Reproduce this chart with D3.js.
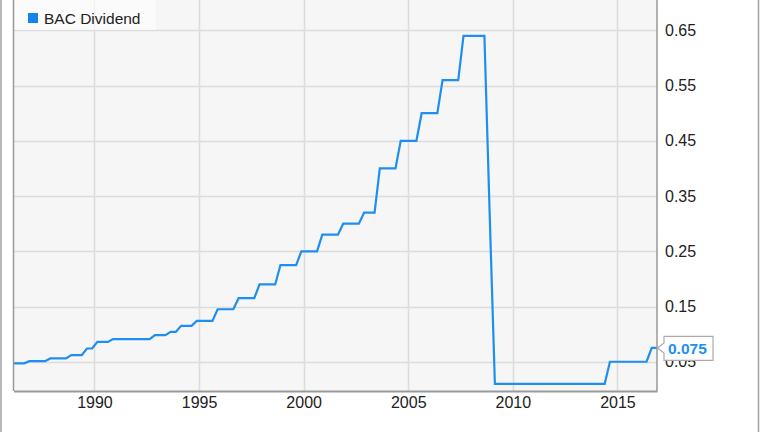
<!DOCTYPE html>
<html>
<head>
<meta charset="utf-8">
<script src="https://cdn.jsdelivr.net/npm/d3@7"></script>
<style>
  html, body { margin: 0; padding: 0; background: #fff; }
  svg { display: block; font-family: "Liberation Sans", Arial, sans-serif; }
</style>
</head>
<body>
<svg id="chart" width="764" height="432"></svg>
<script>
// ---- Data (quarterly, decimal-year dates) ----
const seriesName = "BAC Dividend";
const quarterDates = [
  1986.14, 1986.39, 1986.64, 1986.89,
  1987.14, 1987.39, 1987.64, 1987.89,
  1988.14, 1988.39, 1988.64, 1988.89,
  1989.14, 1989.39, 1989.64, 1989.89,
  1990.14, 1990.39, 1990.64, 1990.89,
  1991.14, 1991.39, 1991.64, 1991.89,
  1992.14, 1992.39, 1992.64, 1992.89,
  1993.14, 1993.39, 1993.64, 1993.89,
  1994.14, 1994.39, 1994.64, 1994.89,
  1995.14, 1995.39, 1995.64, 1995.89,
  1996.14, 1996.39, 1996.64, 1996.89,
  1997.14, 1997.39, 1997.64, 1997.89,
  1998.14, 1998.39, 1998.64, 1998.89,
  1999.14, 1999.39, 1999.64, 1999.89,
  2000.14, 2000.39, 2000.64, 2000.89,
  2001.14, 2001.39, 2001.64, 2001.89,
  2002.14, 2002.39, 2002.64, 2002.89,
  2003.14, 2003.39, 2003.64, 2003.89,
  2004.14, 2004.39, 2004.64, 2004.89,
  2005.14, 2005.39, 2005.64, 2005.89,
  2006.14, 2006.39, 2006.64, 2006.89,
  2007.14, 2007.39, 2007.64, 2007.89,
  2008.14, 2008.39, 2008.64, 2008.89,
  2009.14, 2009.39, 2009.64, 2009.89,
  2010.14, 2010.39, 2010.64, 2010.89,
  2011.14, 2011.39, 2011.64, 2011.89,
  2012.14, 2012.39, 2012.64, 2012.89,
  2013.14, 2013.39, 2013.64, 2013.89,
  2014.14, 2014.39, 2014.64, 2014.89,
  2015.14, 2015.39, 2015.64, 2015.89,
  2016.14, 2016.39, 2016.64, 2016.89
];
const dividendValues = [
  0.047, 0.047, 0.047, 0.051,
  0.051, 0.051, 0.051, 0.056,
  0.056, 0.056, 0.056, 0.062,
  0.062, 0.062, 0.074, 0.074,
  0.086, 0.086, 0.086, 0.091,
  0.091, 0.091, 0.091, 0.091,
  0.091, 0.091, 0.091, 0.098,
  0.098, 0.098, 0.104, 0.104,
  0.115, 0.115, 0.115, 0.124,
  0.124, 0.124, 0.124, 0.145,
  0.145, 0.145, 0.145, 0.165,
  0.165, 0.165, 0.165, 0.190,
  0.190, 0.190, 0.190, 0.225,
  0.225, 0.225, 0.225, 0.250,
  0.250, 0.250, 0.250, 0.280,
  0.280, 0.280, 0.280, 0.300,
  0.300, 0.300, 0.300, 0.320,
  0.320, 0.320, 0.400, 0.400,
  0.400, 0.400, 0.450, 0.450,
  0.450, 0.450, 0.500, 0.500,
  0.500, 0.500, 0.560, 0.560,
  0.560, 0.560, 0.640, 0.640,
  0.640, 0.640, 0.640, 0.320,
  0.010, 0.010, 0.010, 0.010,
  0.010, 0.010, 0.010, 0.010,
  0.010, 0.010, 0.010, 0.010,
  0.010, 0.010, 0.010, 0.010,
  0.010, 0.010, 0.010, 0.010,
  0.010, 0.010, 0.050, 0.050,
  0.050, 0.050, 0.050, 0.050,
  0.050, 0.050, 0.075, 0.075
];
const xTickYears = [1990, 1995, 2000, 2005, 2010, 2015];
const yTickValues = [0.05, 0.15, 0.25, 0.35, 0.45, 0.55, 0.65];
const lastLabel = "0.075";

// ---- Layout ----
const svg = d3.select("#chart");
const plot = { left: 13.5, right: 657, top: 0, bottom: 391 };
const lineColor = "#1e8ff0";

const x = d3.scaleLinear().domain([1986.13, 2016.89]).range([plot.left, plot.right]);
const y = d3.scaleLinear().domain([-0.003, 0.705]).range([plot.bottom, plot.top]);

const data = quarterDates.map((d, i) => ({ t: d, v: dividendValues[i] }));

// outer frame lines
svg.append("line").attr("x1", 1).attr("x2", 1).attr("y1", 0).attr("y2", 432)
  .attr("stroke", "#a0a0a0").attr("stroke-width", 1.5);
svg.append("line").attr("x1", 758.5).attr("x2", 758.5).attr("y1", 0).attr("y2", 432)
  .attr("stroke", "#a0a0a0").attr("stroke-width", 1.5);

// plot background
svg.append("rect")
  .attr("x", plot.left).attr("y", plot.top)
  .attr("width", plot.right - plot.left).attr("height", plot.bottom - plot.top)
  .attr("fill", "#f6f6f6");

// gridlines
const grid = svg.append("g");
grid.selectAll("line.v").data(xTickYears).join("line")
  .attr("x1", d => Math.round(x(d)) + 0.5).attr("x2", d => Math.round(x(d)) + 0.5)
  .attr("y1", plot.top).attr("y2", plot.bottom)
  .attr("stroke", "#dcdcdc").attr("stroke-width", 1.5);
grid.selectAll("line.h").data(yTickValues).join("line")
  .attr("x1", plot.left).attr("x2", plot.right)
  .attr("y1", d => Math.round(y(d)) + 0.5).attr("y2", d => Math.round(y(d)) + 0.5)
  .attr("stroke", "#dcdcdc").attr("stroke-width", 1.5);

// legend background (semi-transparent)
svg.append("rect")
  .attr("x", plot.left + 1).attr("y", 0).attr("width", 141).attr("height", 30)
  .attr("fill", "#ffffff").attr("opacity", 0.6);

// line
const line = d3.line().x(d => x(d.t)).y(d => y(d.v));
svg.append("path").datum(data)
  .attr("d", line)
  .attr("fill", "none")
  .attr("stroke", lineColor)
  .attr("stroke-width", 2.2)
  .attr("stroke-linejoin", "miter");

// plot borders
svg.append("line").attr("x1", plot.left).attr("x2", plot.left).attr("y1", 0).attr("y2", plot.bottom)
  .attr("stroke", "#999").attr("stroke-width", 1.5);
svg.append("line").attr("x1", plot.right).attr("x2", plot.right).attr("y1", 0).attr("y2", plot.bottom)
  .attr("stroke", "#999").attr("stroke-width", 1.5);

// x axis
const xAxis = d3.axisBottom(x).tickValues(xTickYears).tickFormat(d3.format("d")).tickSize(0).tickPadding(6);
const gx = svg.append("g").attr("transform", `translate(0,${plot.bottom})`).call(xAxis);
gx.select(".domain").attr("stroke", "#999").attr("stroke-width", 2);
gx.selectAll("text").attr("font-size", 16).attr("fill", "#222")
  .attr("font-family", "Liberation Sans, Arial, sans-serif");

// y axis (right side)
const yAxis = d3.axisRight(y).tickValues(yTickValues).tickFormat(d3.format(".2f")).tickSize(0).tickPadding(8);
const gy = svg.append("g").attr("transform", `translate(${plot.right},0)`).call(yAxis);
gy.select(".domain").remove();
gy.selectAll("text").attr("font-size", 16).attr("fill", "#222")
  .attr("font-family", "Liberation Sans, Arial, sans-serif");

// legend
svg.append("rect").attr("x", 28).attr("y", 13).attr("width", 10).attr("height", 10).attr("fill", "#1285e8");
svg.append("text").attr("x", 44).attr("y", 24).attr("font-size", 15.5).attr("fill", "#222")
  .text(seriesName);

// last value callout
const last = data[data.length - 1];
const ly = y(last.v);
const bx = plot.right + 7, bw = 49, bh = 24;
const callout = svg.append("g");
callout.append("path")
  .attr("d", `M${plot.right + 0.5},${ly} L${bx},${ly - 5} L${bx},${ly - 11.5} L${bx + bw},${ly - 11.5} L${bx + bw},${ly + 12.5} L${bx},${ly + 12.5} L${bx},${ly + 5} Z`)
  .attr("fill", "#fff").attr("stroke", "#aaa").attr("stroke-width", 1.2);
callout.append("text").attr("x", bx + 4).attr("y", ly + 6)
  .attr("font-size", 15.5).attr("font-weight", "bold").attr("fill", lineColor)
  .text(lastLabel);
</script>
</body>
</html>
